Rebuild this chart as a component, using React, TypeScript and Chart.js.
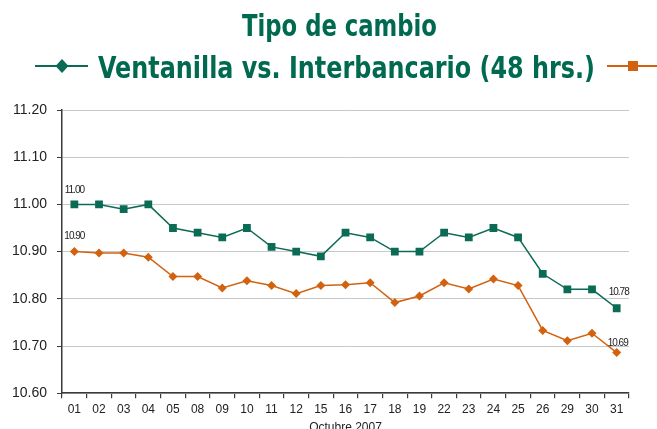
import React, { useEffect, useRef } from 'react';
import { Chart, registerables } from 'chart.js';

Chart.register(...registerables);

// ---- Data ----
const days = ['01', '02', '03', '04', '05', '08', '09', '10', '11', '12', '15', '16', '17', '18', '19', '22', '23', '24', '25', '26', '29', '30', '31'];
const ventanilla = [11.0, 11.0, 10.99, 11.0, 10.95, 10.94, 10.93, 10.95, 10.91, 10.9, 10.89, 10.94, 10.93, 10.9, 10.9, 10.94, 10.93, 10.95, 10.93, 10.853, 10.82, 10.82, 10.78];
const interbancario = [10.9, 10.897, 10.897, 10.888, 10.847, 10.847, 10.823, 10.838, 10.828, 10.811, 10.828, 10.83, 10.834, 10.792, 10.806, 10.834, 10.821, 10.842, 10.828, 10.733, 10.711, 10.727, 10.686];
const yTickValues = [10.6, 10.7, 10.8, 10.9, 11.0, 11.1, 11.2];
const titleLines = ['Tipo de cambio', 'Ventanilla vs. Interbancario (48 hrs.)'];
const xAxisTitle = 'Octubre 2007';
const labelledIndices = [0, 22];

// ---- Styles ----
const GREEN = '#0b6b55';
const ORANGE = '#d2620f';
const TITLE_COLOR = '#006a50';
const AXIS = '#3a3a3a';
const GRID = '#c8c8c8';
const TICK_FONT = '"Liberation Sans", Arial, sans-serif';
const TITLE_FONT = 'bold 30px "Liberation Sans Narrow", "DejaVu Sans Condensed", "Liberation Sans", sans-serif';

function drawFitted(ctx: CanvasRenderingContext2D, text: string, x0: number, x1: number, y: number) {
  const w = ctx.measureText(text).width;
  ctx.save();
  ctx.translate(x0, y);
  ctx.scale((x1 - x0) / w, 1);
  ctx.textAlign = 'left';
  ctx.textBaseline = 'alphabetic';
  ctx.fillText(text, 0, 0);
  ctx.restore();
}

const headerPlugin = {
  id: 'headerPlugin',
  afterDraw(chart: any) {
    const ctx: CanvasRenderingContext2D = chart.ctx;
    ctx.save();
    ctx.fillStyle = TITLE_COLOR;
    ctx.font = TITLE_FONT;
    drawFitted(ctx, titleLines[0], 242, 437, 36);
    drawFitted(ctx, titleLines[1], 98, 595, 78);

    // legend marker: green line with diamond
    ctx.strokeStyle = GREEN;
    ctx.lineWidth = 2;
    ctx.beginPath();
    ctx.moveTo(35, 66);
    ctx.lineTo(88, 66);
    ctx.stroke();
    ctx.fillStyle = GREEN;
    ctx.beginPath();
    ctx.moveTo(62, 59);
    ctx.lineTo(68.5, 66);
    ctx.lineTo(62, 73);
    ctx.lineTo(55.5, 66);
    ctx.closePath();
    ctx.fill();

    // legend marker: orange line with square
    ctx.strokeStyle = ORANGE;
    ctx.beginPath();
    ctx.moveTo(607, 66);
    ctx.lineTo(657, 66);
    ctx.stroke();
    ctx.fillStyle = ORANGE;
    ctx.fillRect(628, 61, 10, 10);
    ctx.restore();
  },
};

const dataLabelPlugin = {
  id: 'dataLabelPlugin',
  afterDatasetsDraw(chart: any) {
    const ctx: CanvasRenderingContext2D = chart.ctx;
    ctx.save();
    ctx.fillStyle = '#222';
    ctx.font = '10px ' + TICK_FONT;
    (ctx as any).letterSpacing = '-1px';
    ctx.textAlign = 'center';
    ctx.textBaseline = 'middle';
    const offsets = [
      [[0, -14], [2, -16]],
      [[0, -15], [1, -9]],
    ];
    chart.data.datasets.forEach((ds: any, di: number) => {
      const meta = chart.getDatasetMeta(di);
      labelledIndices.forEach((idx, k) => {
        const pt = meta.data[idx];
        const v = ds.data[idx] as number;
        const [dx, dy] = offsets[di][k];
        ctx.fillText(v.toFixed(2), pt.x + dx, pt.y + dy);
      });
    });
    ctx.restore();
  },
};

export default function App() {
  const canvasRef = useRef<HTMLCanvasElement | null>(null);

  useEffect(() => {
    if (!canvasRef.current) return;
    const chart = new Chart(canvasRef.current, {
      type: 'line',
      data: {
        labels: days,
        datasets: [
          {
            label: 'Ventanilla',
            data: ventanilla,
            borderColor: GREEN,
            backgroundColor: GREEN,
            borderWidth: 1.5,
            pointStyle: 'rect',
            pointRadius: 5.5,
            pointBorderWidth: 0,
            tension: 0,
          },
          {
            label: 'Interbancario (48 hrs.)',
            data: interbancario,
            borderColor: ORANGE,
            backgroundColor: ORANGE,
            borderWidth: 1.5,
            pointStyle: 'rectRot',
            pointRadius: 4.5,
            pointBorderWidth: 0,
            tension: 0,
          },
        ],
      },
      options: {
        responsive: false,
        animation: false,
        devicePixelRatio: 1,
        layout: { padding: { top: 110, left: 2, right: 28, bottom: 0 } },
        plugins: {
          legend: { display: false },
          title: { display: false },
          tooltip: { enabled: false },
        },
        scales: {
          x: {
            type: 'category',
            offset: true,
            grid: { offset: true, drawOnChartArea: false, drawTicks: true, tickLength: 5, color: AXIS, lineWidth: 1.2 },
            border: { color: AXIS, width: 1.5 },
            ticks: { font: { size: 12, family: TICK_FONT }, color: '#222', padding: 4, maxRotation: 0, autoSkip: false },
            title: { display: true, text: xAxisTitle, color: '#222', font: { size: 12, family: TICK_FONT }, padding: { top: 0, bottom: 0 } },
          },
          y: {
            min: yTickValues[0],
            max: yTickValues[yTickValues.length - 1],
            afterBuildTicks: (scale: any) => {
              scale.ticks = yTickValues.map((v) => ({ value: v }));
            },
            grid: { color: GRID, tickColor: AXIS, drawTicks: true, tickLength: 5, lineWidth: 1 },
            border: { color: AXIS, width: 1.5 },
            ticks: {
              padding: 10,
              color: '#222',
              font: { size: 14, family: TICK_FONT },
              callback: (v: any) => Number(v).toFixed(2),
            },
          },
        },
      },
      plugins: [headerPlugin, dataLabelPlugin],
    });
    return () => chart.destroy();
  }, []);

  return (
    <div style={{ position: 'fixed', left: 0, top: 0, width: 657, height: 429, overflow: 'hidden', background: '#fff' }}>
      <canvas ref={canvasRef} width={657} height={435} style={{ display: 'block', width: 657, height: 435 }} />
    </div>
  );
}
